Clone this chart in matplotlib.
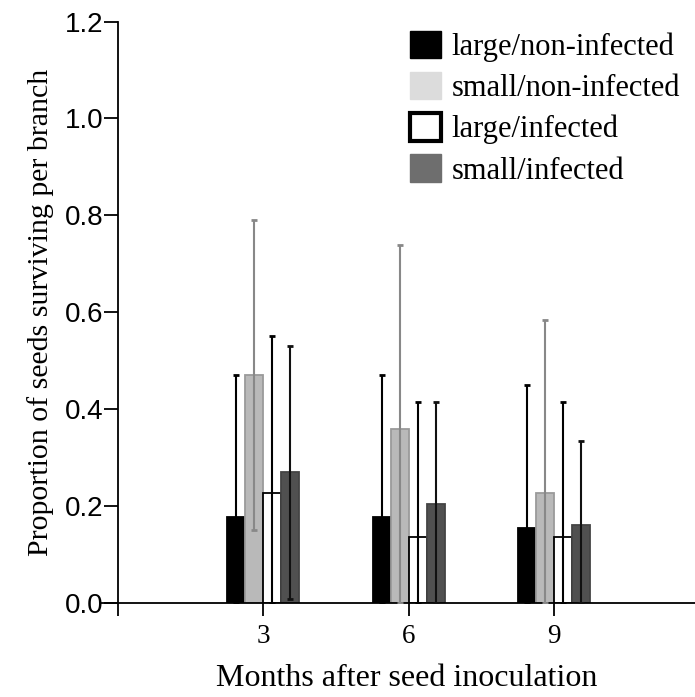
import numpy as np
import matplotlib
matplotlib.use("Agg")
import matplotlib.pyplot as plt
from matplotlib.patches import Patch

months = ["3", "6", "9"]
groups = ["large/non-infected", "small/non-infected", "large/infected", "small/infected"]

# mean proportion surviving and upper error extent, one list per group
means = {
    "large/non-infected": [0.178, 0.178, 0.155],
    "small/non-infected": [0.470, 0.360, 0.227],
    "large/infected":     [0.227, 0.136, 0.136],
    "small/infected":     [0.270, 0.205, 0.160],
}
errors = {
    "large/non-infected": [0.292, 0.292, 0.295],
    "small/non-infected": [0.320, 0.378, 0.358],
    "large/infected":     [0.323, 0.279, 0.279],
    "small/infected":     [0.261, 0.210, 0.175],
}

fills = ["#000000", "#b9b9b9", "#ffffff", "#505050"]
edges = ["#000000", "#9a9a9a", "#000000", "#444444"]
err_colors = ["#000000", "#888888", "#000000", "#111111"]
legend_fills = ["#000000", "#dcdcdc", "#ffffff", "#6e6e6e"]

fig = plt.figure(figsize=(6.95, 6.97), dpi=100)
ax = fig.add_axes([0.17, 0.135, 0.83, 0.834])

x = np.arange(1, len(months) + 1)
w = 0.124
for i, g in enumerate(groups):
    xs = x + (i - 1.5) * w
    m = np.array(means[g])
    e = np.array(errors[g])
    lower = np.minimum(e, m)
    ax.bar(xs, m, width=w, color=fills[i], edgecolor=edges[i], linewidth=1.3, zorder=2)
    ax.errorbar(xs, m, yerr=[lower, e], fmt="none", ecolor=err_colors[i],
                elinewidth=1.5, capsize=2.5, capthick=2, zorder=3)

ax.set_xlim(0, 3.97)
ax.set_ylim(0, 1.2)
yt = np.arange(0, 1.21, 0.2)
ax.set_yticks(yt)
ax.set_yticklabels([f"{v:.1f}" for v in yt], family="Liberation Sans", fontsize=20)
ax.set_xticks([0] + list(x))
ax.set_xticklabels([""] + months, family="Liberation Serif", fontsize=19.5)
ax.tick_params(axis="y", length=10, width=1.3, pad=0.5)
ax.tick_params(axis="x", length=9, width=1.3, pad=6)

for s in ["top", "right"]:
    ax.spines[s].set_visible(False)
for s in ["left", "bottom"]:
    ax.spines[s].set_linewidth(1.3)
ax.spines["bottom"].set_bounds(-0.12, 3.97)

ax.set_ylabel("Proportion of seeds surviving per branch", family="Liberation Serif",
              fontsize=21.5, labelpad=8)
ax.set_xlabel("Months after seed inoculation", family="Liberation Serif",
              fontsize=23, labelpad=11)

handles = [Patch(facecolor=legend_fills[i], edgecolor="#000000" if i in (0, 2) else legend_fills[i],
                 linewidth=3 if i == 2 else 1, joinstyle="round") for i in range(4)]
ax.legend(handles, groups, loc="upper right", bbox_to_anchor=(0.99, 1.0),
          frameon=False, prop={"family": "Liberation Serif", "size": 22},
          handlelength=1.0, handleheight=1.0, handletextpad=0.35, labelspacing=0.33,
          borderpad=0.0, borderaxespad=0.3)

fig.savefig("out.png", dpi=100)
